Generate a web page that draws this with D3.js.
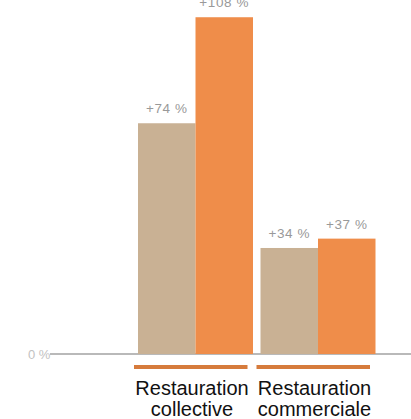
<!DOCTYPE html>
<html>
<head>
<meta charset="utf-8">
<script src="https://cdn.jsdelivr.net/npm/d3@7"></script>
<style>
  html, body { margin: 0; padding: 0; background: #fff; }
  svg { display: block; font-family: "Liberation Sans", Arial, sans-serif; }
</style>
</head>
<body>
<svg id="chart" width="411" height="419"></svg>
<script>
// Catégories et séries (évolution en %)
const categories = ["Restauration collective", "Restauration commerciale"];
const categoryLines = [["Restauration", "collective"], ["Restauration", "commerciale"]];
const series = ["période 1", "période 2"];
const seriesA = [74, 34];
const seriesB = [108, 37];
const valueLabels = [["+74 %", "+108 %"], ["+34 %", "+37 %"]];
const yTicks = [0];
const yTickLabels = ["0 %"];

const colors = { "période 1": "#c9b194", "période 2": "#ef8d4a" };

const rows = categories.map((c, i) => ({
  category: c,
  values: [
    { key: series[0], value: seriesA[i], label: valueLabels[i][0] },
    { key: series[1], value: seriesB[i], label: valueLabels[i][1] }
  ]
}));

const svg = d3.select("#chart");

const x0 = d3.scaleBand()
  .domain(categories)
  .range([138, 375.5])
  .paddingInner(0.0612)
  .paddingOuter(0);

const x1 = d3.scaleBand()
  .domain(series)
  .range([0, x0.bandwidth()])
  .padding(0);

const y = d3.scaleLinear()
  .domain([0, 110])
  .range([354, 11]);

// Ligne de base et étiquette 0 %
svg.append("line")
  .attr("x1", 50).attr("x2", 411)
  .attr("y1", y(0)).attr("y2", y(0))
  .attr("stroke", "#b9b9b9")
  .attr("stroke-width", 2);

svg.selectAll("text.ytick")
  .data(yTicks)
  .join("text")
  .attr("class", "ytick")
  .attr("x", 28)
  .attr("y", d => y(d) + 4.5)
  .attr("font-size", 13)
  .attr("fill", "#c2c2c2")
  .text((d, i) => yTickLabels[i]);

// Barres groupées
const groups = svg.selectAll("g.group")
  .data(rows)
  .join("g")
  .attr("class", "group")
  .attr("transform", d => `translate(${x0(d.category)},0)`);

groups.selectAll("rect")
  .data(d => d.values)
  .join("rect")
  .attr("x", d => x1(d.key))
  .attr("y", d => y(d.value))
  .attr("width", x1.bandwidth())
  .attr("height", d => y(0) - y(d.value))
  .attr("fill", d => colors[d.key]);

groups.selectAll("text.val")
  .data(d => d.values)
  .join("text")
  .attr("class", "val")
  .attr("x", d => x1(d.key) + x1.bandwidth() / 2)
  .attr("y", d => y(d.value) - 10)
  .attr("text-anchor", "middle")
  .attr("font-size", 13.5)
  .attr("letter-spacing", 0.6)
  .attr("fill", "#999")
  .text(d => d.label);

// Soulignement et libellés de catégorie
const axis = svg.selectAll("g.cat")
  .data(categories)
  .join("g")
  .attr("class", "cat")
  .attr("transform", d => `translate(${x0(d)},0)`);

axis.append("rect")
  .attr("x", -4)
  .attr("y", 365)
  .attr("width", x0.bandwidth() - 1.5)
  .attr("height", 4)
  .attr("fill", "#d67b3c");

axis.append("text")
  .attr("text-anchor", "middle")
  .attr("font-size", 20)
  .attr("fill", "#111")
  .selectAll("tspan")
  .data((d, i) => categoryLines[i])
  .join("tspan")
  .attr("x", x0.bandwidth() / 2 - 3.5)
  .attr("y", (d, i) => 395 + i * 21)
  .text(d => d);
</script>
</body>
</html>
